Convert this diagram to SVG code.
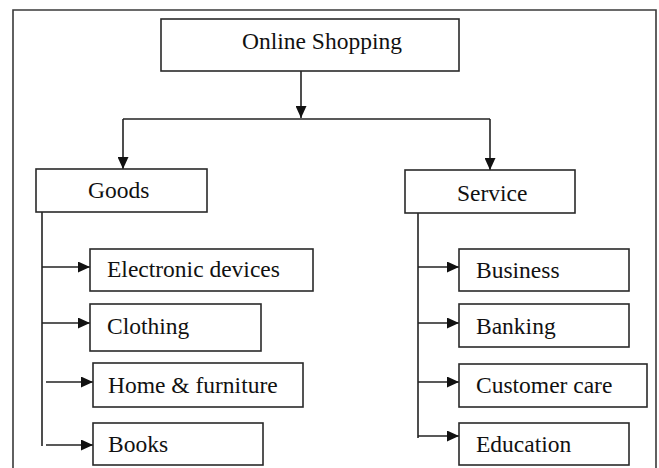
<svg xmlns="http://www.w3.org/2000/svg" width="659" height="468" viewBox="0 0 659 468">
  <style>
    .box { fill: #ffffff; stroke: #2a2a2a; stroke-width: 1.6; }
    .lbl { font-family: "Liberation Serif", "Times New Roman", serif; font-size: 23.5px; fill: #111111; }
    .wire { fill: none; stroke: #222222; stroke-width: 1.6; }
    .frame { fill: none; stroke: #3a3a3a; stroke-width: 1.6; }
  </style>
  <defs>
    <marker id="arrow" markerUnits="userSpaceOnUse" markerWidth="12" markerHeight="11" refX="12" refY="5.5" orient="auto">
      <path d="M0,0 L12,5.5 L0,11 Z" fill="#111111"/>
    </marker>
  </defs>

  <rect width="659" height="468" fill="#ffffff"/>
  <!-- page frame, open at the bottom -->
  <path class="frame" d="M13,470 V10 H656 V470"/>

  <g id="connectors">
    <path class="wire" d="M301,71 V118" marker-end="url(#arrow)"/>
    <path class="wire" d="M123,119 H490"/>
    <path class="wire" d="M123,119 V169" marker-end="url(#arrow)"/>
    <path class="wire" d="M490,119 V170" marker-end="url(#arrow)"/>

    <!-- Goods branch -->
    <path class="wire" d="M42,212 V446"/>
    <path class="wire" d="M42,267 H90" marker-end="url(#arrow)"/>
    <path class="wire" d="M42,323 H90" marker-end="url(#arrow)"/>
    <path class="wire" d="M46,382 H93" marker-end="url(#arrow)"/>
    <path class="wire" d="M46,445 H93" marker-end="url(#arrow)"/>

    <!-- Service branch -->
    <path class="wire" d="M418,213 V438"/>
    <path class="wire" d="M418,267 H459" marker-end="url(#arrow)"/>
    <path class="wire" d="M418,323 H459" marker-end="url(#arrow)"/>
    <path class="wire" d="M418,382 H459" marker-end="url(#arrow)"/>
    <path class="wire" d="M418,436 H459" marker-end="url(#arrow)"/>
  </g>

  <g id="online-shopping">
    <rect class="box" x="161" y="19" width="298" height="52"/>
    <text class="lbl" x="242" y="49">Online Shopping</text>
  </g>

  <g id="goods">
    <rect class="box" x="36" y="169" width="171" height="43"/>
    <text class="lbl" x="88" y="198">Goods</text>
  </g>

  <g id="service">
    <rect class="box" x="405" y="170" width="170" height="43"/>
    <text class="lbl" x="457" y="201">Service</text>
  </g>

  <g id="electronic-devices">
    <rect class="box" x="90" y="249" width="223" height="42"/>
    <text class="lbl" x="107" y="277">Electronic devices</text>
  </g>

  <g id="clothing">
    <rect class="box" x="90" y="304" width="171" height="47"/>
    <text class="lbl" x="107" y="334">Clothing</text>
  </g>

  <g id="home-furniture">
    <rect class="box" x="93" y="363" width="210" height="44"/>
    <text class="lbl" x="108" y="393">Home &amp; furniture</text>
  </g>

  <g id="books">
    <rect class="box" x="93" y="423" width="170" height="42"/>
    <text class="lbl" x="108" y="452">Books</text>
  </g>

  <g id="business">
    <rect class="box" x="459" y="249" width="170" height="42"/>
    <text class="lbl" x="476" y="278">Business</text>
  </g>

  <g id="banking">
    <rect class="box" x="459" y="304" width="170" height="43"/>
    <text class="lbl" x="476" y="334">Banking</text>
  </g>

  <g id="customer-care">
    <rect class="box" x="459" y="364" width="188" height="43"/>
    <text class="lbl" x="476" y="393">Customer care</text>
  </g>

  <g id="education">
    <rect class="box" x="459" y="423" width="170" height="42"/>
    <text class="lbl" x="476" y="452">Education</text>
  </g>
</svg>
